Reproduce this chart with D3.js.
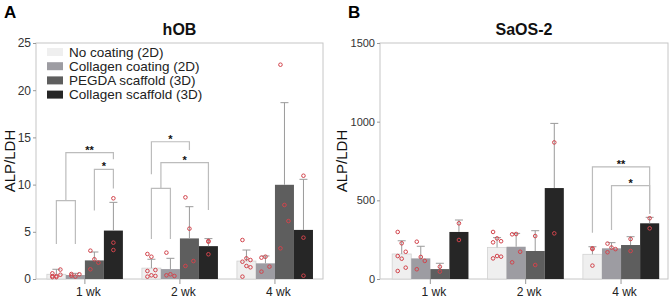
<!DOCTYPE html>
<html>
<head>
<meta charset="utf-8">
<script src="https://cdn.jsdelivr.net/npm/d3@7"></script>
<style>
  body { margin: 0; background: #fff; }
  svg { display: block; font-family: "Liberation Sans", Arial, sans-serif; }
</style>
</head>
<body>
<svg id="chart"></svg>
<script>
const weeks = ["1 wk", "2 wk", "4 wk"];
const conditions = ["No coating (2D)", "Collagen coating (2D)", "PEGDA scaffold (3D)", "Collagen scaffold (3D)"];
const colors = ["#efefef", "#9d9ca2", "#5e5e5e", "#262626"];

// hOB (panel A): mean, top of error bar, single values  [week][condition]
const hobMeans = [[0.5, 0.42, 1.97, 5.13], [1.15, 1.05, 4.3, 3.48], [1.9, 1.66, 9.98, 5.2]];
const hobErrTop = [[1.03, 0.6, 2.86, 8.12], [2.09, 2.19, 7.66, 4.28], [3.07, 2.44, 18.68, 10.56]];
const hobPoints = [
  [[0.2, 0.3, 1.0, 0.6, 0.2, 0.45, 0.3], [0.53, 0.25, 0.5, 0.35], [3.0, 2.09, 1.73, 1.03], [8.55, 3.85, 3.07]],
  [[2.65, 2.36, 0.95, 0.85, 0.39, 0.32, 0.25], [2.79, 0.5, 0.32, 0.39], [8.65, 5.33, 1.9, 1.38], [4.03, 3.95, 2.62]],
  [[4.13, 2.19, 2.01, 1.83, 1.38, 1.24, 0.25], [2.26, 2.36, 1.31, 0.78], [22.7, 7.84, 6.14, 3.25], [10.94, 4.38, 0.35]]
];
// significance brackets: bars a -> b (0.5 = between bar 0 and 1), top value, leg ends
const hobBrackets = [
  {week: "1 wk", a: 0, b: 1, top: 8.3, endA: 3.7, endB: 3.7, label: ""},
  {week: "1 wk", a: 0.5, b: 3, top: 13.38, endA: 8.3, endB: 12.68, label: "**"},
  {week: "1 wk", a: 2, b: 3, top: 11.62, endA: 7.25, endB: 9.6, label: "*"},
  {week: "2 wk", a: 0, b: 1, top: 9.6, endA: 4.24, endB: 4.24, label: ""},
  {week: "2 wk", a: 0, b: 2, top: 14.54, endA: 11.1, endB: 13.67, label: "*"},
  {week: "2 wk", a: 0.5, b: 3, top: 12.32, endA: 9.6, endB: 7.3, label: "*"}
];

// SaOS-2 (panel B)
const saosMeans = [[159, 131, 63, 299], [201, 205, 178, 578], [157, 195, 216, 354]];
const saosErrTop = [[243, 208, 100, 375], [263, 290, 307, 989], [205, 231, 269, 392]];
const saosPoints = [
  [[299, 227, 173, 146, 129, 72, 51], [237, 140, 115, 62], [78, 47], [354, 248]],
  [[299, 258, 240, 233, 146, 142, 131], [284, 286, 173, 106], [273, 89], [868, 290]],
  [[195, 190, 85], [225, 200, 190, 170], [254, 178], [386, 322]]
];
const saosBrackets = [
  {week: "4 wk", a: 0, b: 3, top: 713, endA: 294, endB: 415, label: "**"},
  {week: "4 wk", a: 1, b: 3, top: 593, endA: 311, endB: 415, label: "*"}
];

const width = 669, height = 298;
const plotTop = 43, plotBottom = 279;

const svg = d3.select("#chart")
  .attr("width", width)
  .attr("height", height)
  .attr("viewBox", [0, 0, width, height]);

const panels = [
  {letter: "A", title: "hOB", left: 36, right: 323, max: 25, ticks: [0, 5, 10, 15, 20, 25], align: 0.52,
   tickFont: 12, labelX: 15, means: hobMeans, errs: hobErrTop, pts: hobPoints, brackets: hobBrackets, legend: true},
  {letter: "B", title: "SaOS-2", left: 380, right: 668, max: 1500, ticks: [0, 500, 1000, 1500], align: 0.58,
   tickFont: 11, labelX: 347, means: saosMeans, errs: saosErrTop, pts: saosPoints, brackets: saosBrackets, legend: false}
];

panels.forEach(p => {
  const g = svg.append("g");

  const x0 = d3.scaleBand()
    .domain(weeks)
    .range([p.left, p.right])
    .paddingInner(0.2)
    .paddingOuter(0.11)
    .align(p.align);

  const x1 = d3.scaleBand()
    .domain(d3.range(conditions.length))
    .range([0, x0.bandwidth()]);

  const y = d3.scaleLinear()
    .domain([0, p.max])
    .range([plotBottom, plotTop]);

  // bar x centre, allows fractional index between bars
  const cx = (week, i) => x0(week) + (i + 0.5) * x1.bandwidth();

  // panel letter + title
  g.append("text")
    .attr("x", p.left - 32)
    .attr("y", 18)
    .attr("font-size", 17)
    .attr("font-weight", "bold")
    .text(p.letter);

  g.append("text")
    .attr("x", (p.left + p.right) / 2)
    .attr("y", 35)
    .attr("text-anchor", "middle")
    .attr("font-size", 16)
    .attr("font-weight", "bold")
    .attr("fill", "#111")
    .text(p.title);

  // frame
  g.append("rect")
    .attr("x", p.left)
    .attr("y", plotTop)
    .attr("width", p.right - p.left)
    .attr("height", plotBottom - plotTop)
    .attr("fill", "none")
    .attr("stroke", "#c6c6c6")
    .attr("stroke-width", 1);

  // y axis
  g.append("g")
    .attr("transform", `translate(${p.left},0)`)
    .call(d3.axisLeft(y).tickValues(p.ticks).tickFormat(d3.format("d")).tickSize(3).tickPadding(2))
    .call(a => a.select(".domain").remove())
    .call(a => a.selectAll("line").attr("stroke", "#999"))
    .call(a => a.selectAll("text").attr("font-size", p.tickFont).attr("fill", "#333")
      .attr("font-family", "Liberation Sans, Arial, sans-serif"));

  g.append("text")
    .attr("transform", `translate(${p.labelX},161) rotate(-90)`)
    .attr("text-anchor", "middle")
    .attr("font-size", 15)
    .attr("fill", "#111")
    .text("ALP/LDH");

  // x axis
  g.append("g")
    .attr("transform", `translate(0,${plotBottom})`)
    .call(d3.axisBottom(x0).tickSize(5).tickSizeOuter(0))
    .call(a => a.select(".domain").remove())
    .call(a => a.selectAll("line").attr("stroke", "#999"))
    .call(a => a.selectAll("text").attr("font-size", 12).attr("fill", "#222").attr("dx", 3.5)
      .attr("font-family", "Liberation Sans, Arial, sans-serif"));

  // bars
  const rows = [];
  weeks.forEach((w, wi) => conditions.forEach((c, ci) => {
    rows.push({week: w, ci, mean: p.means[wi][ci], err: p.errs[wi][ci], pts: p.pts[wi][ci]});
  }));

  g.append("g")
    .selectAll("rect")
    .data(rows)
    .join("rect")
    .attr("x", d => x0(d.week) + x1(d.ci))
    .attr("y", d => y(d.mean))
    .attr("width", x1.bandwidth())
    .attr("height", d => y(0) - y(d.mean))
    .attr("fill", d => colors[d.ci])
    .attr("stroke", d => d.ci === 0 ? "#d2d2d2" : "none")
    .attr("stroke-width", 0.8);

  // error bars (upper only)
  const eb = g.append("g").attr("stroke", "#9a9a9a").attr("stroke-width", 1);
  eb.selectAll("line.v")
    .data(rows)
    .join("line")
    .attr("class", "v")
    .attr("x1", d => cx(d.week, d.ci))
    .attr("x2", d => cx(d.week, d.ci))
    .attr("y1", d => y(d.mean))
    .attr("y2", d => y(d.err));
  eb.selectAll("line.cap")
    .data(rows)
    .join("line")
    .attr("class", "cap")
    .attr("x1", d => cx(d.week, d.ci) - 4)
    .attr("x2", d => cx(d.week, d.ci) + 4)
    .attr("y1", d => y(d.err))
    .attr("y2", d => y(d.err));

  // single values
  const dots = rows.flatMap(d => d.pts.map((v, i) => ({
    week: d.week, ci: d.ci, v,
    off: d.pts.length >= 4 ? ((i % 3) - 1) * 4 : 0
  })));
  g.append("g")
    .selectAll("circle")
    .data(dots)
    .join("circle")
    .attr("cx", d => cx(d.week, d.ci) + d.off)
    .attr("cy", d => y(d.v))
    .attr("r", 1.8)
    .attr("fill", "none")
    .attr("stroke", "#d2444c")
    .attr("stroke-width", 1);

  // significance brackets
  const br = g.append("g");
  p.brackets.forEach(b => {
    const xa = cx(b.week, b.a), xb = cx(b.week, b.b);
    br.append("path")
      .attr("d", d3.line()([[xa, y(b.endA)], [xa, y(b.top)], [xb, y(b.top)], [xb, y(b.endB)]]))
      .attr("fill", "none")
      .attr("stroke", "#bcbcbc")
      .attr("stroke-width", 1.2);
    if (b.label) {
      br.append("text")
        .attr("x", (xa + xb) / 2)
        .attr("y", y(b.top) + 1)
        .attr("text-anchor", "middle")
        .attr("font-size", 11)
        .attr("font-weight", "bold")
        .attr("fill", "#111")
        .text(b.label);
    }
  });

  // legend
  if (p.legend) {
    const lg = g.append("g")
      .selectAll("g")
      .data(conditions)
      .join("g")
      .attr("transform", (d, i) => `translate(${p.left + 11},${52 + i * 14.2})`);
    lg.append("rect")
      .attr("x", 0)
      .attr("y", -4)
      .attr("width", 16)
      .attr("height", 8)
      .attr("fill", (d, i) => colors[i]);
    lg.append("text")
      .attr("x", 22)
      .attr("dy", "0.36em")
      .attr("font-size", 13.5)
      .attr("fill", "#222")
      .text(d => d);
  }
});
</script>
</body>
</html>
